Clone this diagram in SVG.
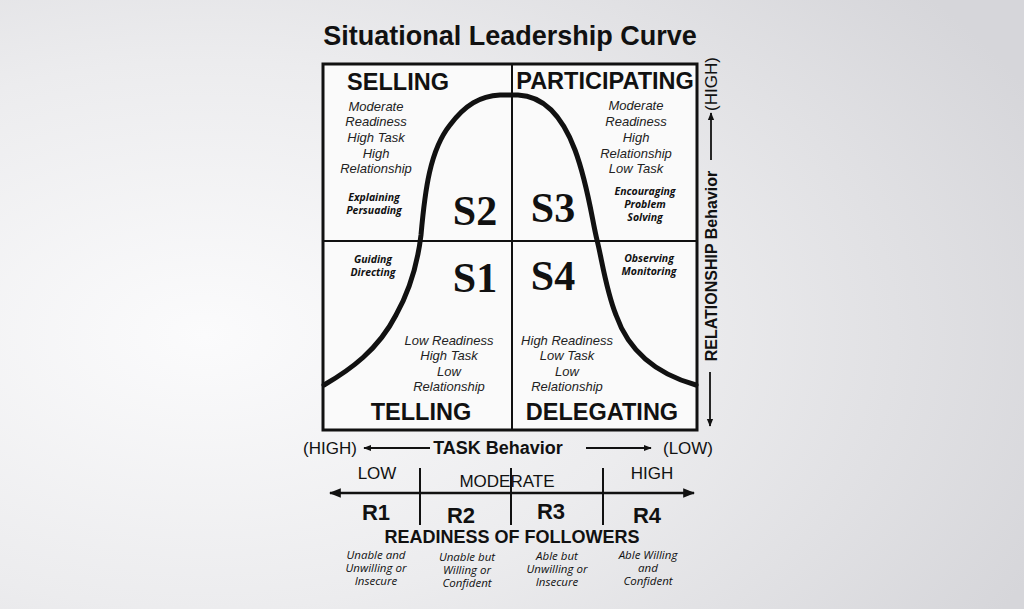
<svg xmlns="http://www.w3.org/2000/svg" width="1024" height="609" viewBox="0 0 1024 609">
<defs>
<radialGradient id="bg" cx="0.2" cy="0.55" r="0.9">
<stop offset="0" stop-color="#fbfbfc"/>
<stop offset="0.5" stop-color="#ececee"/>
<stop offset="1" stop-color="#d6d6da"/>
</radialGradient>
<marker id="ah" viewBox="0 0 10 10" refX="9" refY="5" markerWidth="8" markerHeight="8" markerUnits="userSpaceOnUse" orient="auto-start-reverse">
<path d="M0,1 L10,5 L0,9 Z" fill="#111"/>
</marker>
<marker id="ahb" viewBox="0 0 10 10" refX="9" refY="5" markerWidth="12" markerHeight="12" markerUnits="userSpaceOnUse" orient="auto-start-reverse">
<path d="M0,1 L10,5 L0,9 Z" fill="#111"/>
</marker>
<style>
text{fill:#111;font-family:"Liberation Sans",Arial,sans-serif}
.title{font-size:27px;font-weight:bold}
.hd{font-size:23.5px;font-weight:bold}
.it{font-size:13px;font-style:italic;fill:#222}
.bi{font-size:10.5px;font-style:italic;font-weight:bold;font-family:"Open Sans","Noto Sans",sans-serif}
.s{font-size:42px;font-weight:bold;font-family:"Liberation Serif","Times New Roman",serif}
.ax{font-size:16px;font-weight:bold}
.tx{font-size:18px;font-weight:bold}
.axn{font-size:17px}
.r{font-size:22px;font-weight:bold}
.rd{font-size:18px;font-weight:bold}
.sm{font-size:11.5px;font-style:italic;font-family:"Open Sans","Noto Sans",sans-serif}
.ln{stroke:#111;fill:none}
</style>
</defs>
<rect width="1024" height="609" fill="url(#bg)"/>
<text class="title" x="510" y="45" text-anchor="middle">Situational Leadership Curve</text>

<g id="box">
<rect x="323" y="64" width="374" height="366" fill="#fafafa" stroke="#111" stroke-width="3"/>
<line class="ln" x1="512" y1="64" x2="512" y2="430" stroke-width="2"/>
<line class="ln" x1="323" y1="241" x2="697" y2="241" stroke-width="2"/>
</g>

<g id="curve">
<path class="ln" stroke-width="5" stroke-linecap="round" d="M324,385 C350,370 378,350 396,315 C410,290 418,260 421,235 C425,190 430,150 450,125 C465,105 480,96 500,95 L518,95 C540,96 560,110 575,150 C588,185 592,220 597,240 C602,260 606,290 616,315 C630,355 660,375 696,385"/>
</g>

<g id="selling">
<text class="hd" x="398" y="90" text-anchor="middle">SELLING</text>
<text class="it" x="376" y="111" text-anchor="middle">Moderate</text>
<text class="it" x="376" y="126" text-anchor="middle">Readiness</text>
<text class="it" x="376" y="142" text-anchor="middle">High Task</text>
<text class="it" x="376" y="158" text-anchor="middle">High</text>
<text class="it" x="376" y="173" text-anchor="middle">Relationship</text>
<text class="bi" x="374" y="201" text-anchor="middle">Explaining</text>
<text class="bi" x="374" y="214" text-anchor="middle">Persuading</text>
<text class="s" x="475" y="225" text-anchor="middle">S2</text>
</g>

<g id="participating">
<text class="hd" x="605" y="89" text-anchor="middle">PARTICIPATING</text>
<text class="it" x="636" y="110" text-anchor="middle">Moderate</text>
<text class="it" x="636" y="126" text-anchor="middle">Readiness</text>
<text class="it" x="636" y="142" text-anchor="middle">High</text>
<text class="it" x="636" y="158" text-anchor="middle">Relationship</text>
<text class="it" x="636" y="173" text-anchor="middle">Low Task</text>
<text class="bi" x="645" y="195" text-anchor="middle">Encouraging</text>
<text class="bi" x="645" y="208" text-anchor="middle">Problem</text>
<text class="bi" x="645" y="221" text-anchor="middle">Solving</text>
<text class="s" x="553" y="222" text-anchor="middle">S3</text>
</g>

<g id="telling">
<text class="bi" x="373" y="263" text-anchor="middle">Guiding</text>
<text class="bi" x="373" y="276" text-anchor="middle">Directing</text>
<text class="s" x="475" y="292" text-anchor="middle">S1</text>
<text class="it" x="449" y="345" text-anchor="middle">Low Readiness</text>
<text class="it" x="449" y="360" text-anchor="middle">High Task</text>
<text class="it" x="449" y="376" text-anchor="middle">Low</text>
<text class="it" x="449" y="391" text-anchor="middle">Relationship</text>
<text class="hd" x="421" y="420" text-anchor="middle">TELLING</text>
</g>

<g id="delegating">
<text class="bi" x="649" y="262" text-anchor="middle">Observing</text>
<text class="bi" x="649" y="275" text-anchor="middle">Monitoring</text>
<text class="s" x="553" y="290" text-anchor="middle">S4</text>
<text class="it" x="567" y="345" text-anchor="middle">High Readiness</text>
<text class="it" x="567" y="360" text-anchor="middle">Low Task</text>
<text class="it" x="567" y="376" text-anchor="middle">Low</text>
<text class="it" x="567" y="391" text-anchor="middle">Relationship</text>
<text class="hd" x="602" y="420" text-anchor="middle">DELEGATING</text>
</g>

<g id="relationship-axis">
<text class="ax" transform="translate(717,266) rotate(-90)" text-anchor="middle">RELATIONSHIP Behavior</text>
<text class="axn" transform="translate(717,84) rotate(-90)" text-anchor="middle">(HIGH)</text>
<line class="ln" x1="711" y1="160" x2="711" y2="113" stroke-width="1.8" marker-end="url(#ah)"/>
<line class="ln" x1="710" y1="372" x2="710" y2="426" stroke-width="1.8" marker-end="url(#ah)"/>
</g>

<g id="task-axis">
<text class="axn" x="330" y="454" text-anchor="middle">(HIGH)</text>
<line class="ln" x1="430" y1="448" x2="364" y2="448" stroke-width="1.8" marker-end="url(#ah)"/>
<text class="tx" x="498" y="454" text-anchor="middle">TASK Behavior</text>
<line class="ln" x1="586" y1="448" x2="651" y2="448" stroke-width="1.8" marker-end="url(#ah)"/>
<text class="axn" x="688" y="454" text-anchor="middle">(LOW)</text>
</g>

<g id="connectors">
<line class="ln" x1="330" y1="493" x2="694" y2="493" stroke-width="2.5" marker-start="url(#ahb)" marker-end="url(#ahb)"/>
<line class="ln" x1="420" y1="468" x2="420" y2="525" stroke-width="2"/>
<line class="ln" x1="511" y1="468" x2="511" y2="525" stroke-width="2"/>
<line class="ln" x1="603" y1="468" x2="603" y2="525" stroke-width="2"/>
</g>

<g id="readiness">
<text class="axn" x="377" y="479" text-anchor="middle">LOW</text>
<text class="axn" x="507" y="487" text-anchor="middle">MODERATE</text>
<text class="axn" x="652" y="479" text-anchor="middle">HIGH</text>
<text class="r" x="376" y="520" text-anchor="middle">R1</text>
<text class="r" x="461" y="523" text-anchor="middle">R2</text>
<text class="r" x="551" y="519" text-anchor="middle">R3</text>
<text class="r" x="647" y="523" text-anchor="middle">R4</text>
<text class="rd" x="512" y="543" text-anchor="middle">READINESS OF FOLLOWERS</text>
<text class="sm" x="376" y="559" text-anchor="middle">Unable and</text>
<text class="sm" x="376" y="572" text-anchor="middle">Unwilling or</text>
<text class="sm" x="376" y="585" text-anchor="middle">Insecure</text>
<text class="sm" x="467" y="561" text-anchor="middle">Unable but</text>
<text class="sm" x="467" y="574" text-anchor="middle">Willing or</text>
<text class="sm" x="467" y="587" text-anchor="middle">Confident</text>
<text class="sm" x="557" y="560" text-anchor="middle">Able but</text>
<text class="sm" x="557" y="573" text-anchor="middle">Unwilling or</text>
<text class="sm" x="557" y="586" text-anchor="middle">Insecure</text>
<text class="sm" x="648" y="559" text-anchor="middle">Able Willing</text>
<text class="sm" x="648" y="572" text-anchor="middle">and</text>
<text class="sm" x="648" y="585" text-anchor="middle">Confident</text>
</g>
</svg>
